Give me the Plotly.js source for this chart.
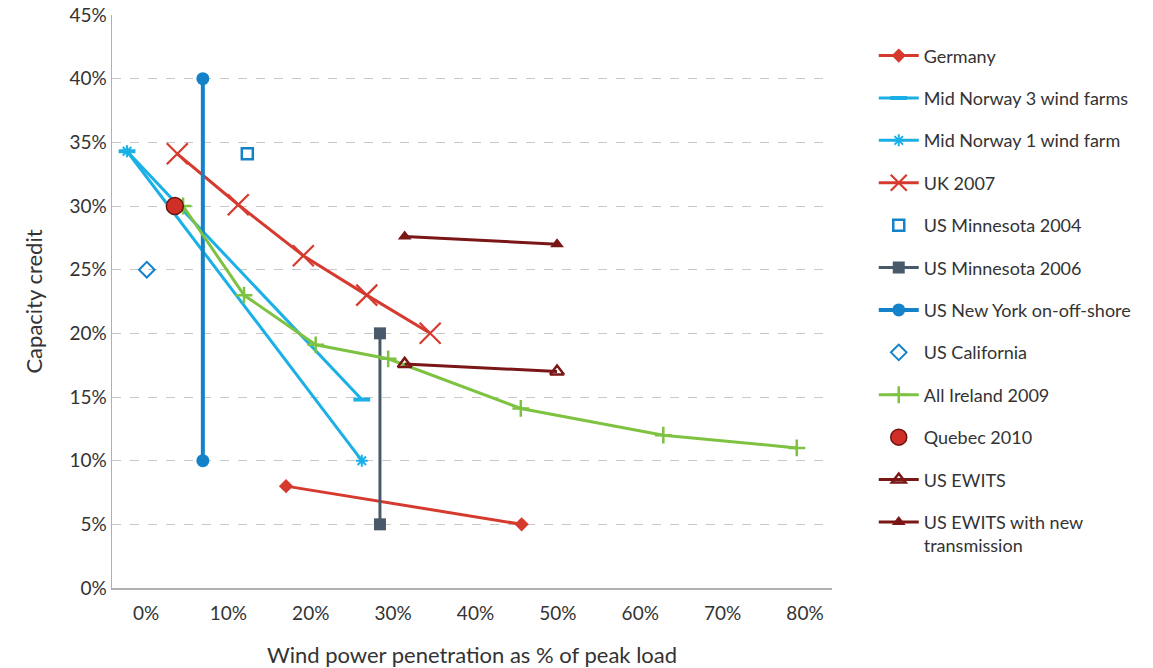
<!DOCTYPE html>
<html>
<head>
<meta charset="utf-8">
<script src="https://cdn.plot.ly/plotly-3.0.1.min.js"></script>
<style>html,body{margin:0;padding:0;background:#fff;}#chart{width:1153px;height:668px;}</style>
</head>
<body>
<div id="chart"></div>
<script>
// Values as fractions (penetration, capacity credit)
const germanyX = [0.170, 0.456];
const germanyY = [0.080, 0.050];
const norway3X = [-0.023, 0.262];
const norway3Y = [0.343, 0.148];
const norway1X = [-0.023, 0.262];
const norway1Y = [0.343, 0.100];
const uk2007X = [0.038, 0.112, 0.191, 0.268, 0.345];
const uk2007Y = [0.341, 0.301, 0.261, 0.230, 0.200];
const minn2004X = [0.123];
const minn2004Y = [0.341];
const minn2006X = [0.284, 0.284];
const minn2006Y = [0.200, 0.050];
const nyX = [0.069, 0.069];
const nyY = [0.400, 0.100];
const califX = [0.001];
const califY = [0.250];
const irelandX = [0.045, 0.119, 0.206, 0.294, 0.455, 0.628, 0.790];
const irelandY = [0.300, 0.230, 0.191, 0.180, 0.141, 0.120, 0.110];
const quebecX = [0.035];
const quebecY = [0.300];
const ewitsX = [0.314, 0.499];
const ewitsY = [0.176, 0.170];
const ewitsNewX = [0.314, 0.499];
const ewitsNewY = [0.276, 0.270];
const yTicks = [0, 0.05, 0.10, 0.15, 0.20, 0.25, 0.30, 0.35, 0.40, 0.45];
const xTicks = [0, 0.1, 0.2, 0.3, 0.4, 0.5, 0.6, 0.7, 0.8];

const RED = '#d63a2f', CYAN = '#1ab0e6', BLUE = '#1482c8', SLATE = '#485a6a', GREEN = '#7ec242', DRED = '#7a1616';

let g = 0;
function tr(name, x, y, mode, color, marker, lw) {
  g++;
  return {type: 'scatter', name: name, x: x, y: y, mode: mode, legendgroup: 'g' + g,
    line: {color: color, width: lw || 3}, marker: marker, cliponaxis: false};
}

const traces = [
  tr('Germany', germanyX, germanyY, 'lines+markers', RED, {symbol: 'diamond', size: 11, color: RED}),
  tr('Mid Norway 3 wind farms', norway3X, norway3Y, 'lines+markers', CYAN, {symbol: 'line-ew', size: 12, color: CYAN, line: {color: CYAN, width: 4}}),
  tr('Mid Norway 1 wind farm', norway1X, norway1Y, 'lines+markers', CYAN, {symbol: 'asterisk', size: 10, color: CYAN, line: {color: CYAN, width: 2}}),
  tr('UK 2007', uk2007X, uk2007Y, 'lines+markers', RED, {symbol: 'x-thin', size: 21, color: RED, line: {color: RED, width: 2.2}}),
  tr('US Minnesota 2004', minn2004X, minn2004Y, 'markers', BLUE, {symbol: 'square-open', size: 11, color: BLUE, line: {color: BLUE, width: 2.5}}),
  tr('US Minnesota 2006', minn2006X, minn2006Y, 'lines+markers', SLATE, {symbol: 'square', size: 12, color: SLATE}),
  tr('US New York on-off-shore', nyX, nyY, 'lines+markers', BLUE, {symbol: 'circle', size: 13, color: BLUE}, 4),
  tr('US California', califX, califY, 'markers', BLUE, {symbol: 'diamond-open', size: 12, color: BLUE, line: {color: BLUE, width: 2}}),
  tr('All Ireland 2009', irelandX, irelandY, 'lines+markers', GREEN, {symbol: 'cross-thin', size: 12, color: GREEN, line: {color: GREEN, width: 2.5}}),
  tr('Quebec 2010', quebecX, quebecY, 'markers', RED, {symbol: 'circle', size: 17, color: '#d02f28', line: {color: '#6b1410', width: 1.5}}),
  tr('US EWITS', ewitsX, ewitsY, 'lines+markers', DRED, {symbol: 'triangle-up-open', size: 12, color: DRED, line: {color: DRED, width: 2.5}}),
  tr('US EWITS with new<br>transmission', ewitsNewX, ewitsNewY, 'lines+markers', DRED, {symbol: 'triangle-up', size: 12, color: DRED})
];

const pxPerUnit = (805 - 146) / 0.8;
const xMin = (112 - 146) / pxPerUnit;
const xMax = (832 - 146) / pxPerUnit;

const layout = {
  width: 1153, height: 668,
  margin: {l: 112, r: 321, t: 15, b: 80},
  paper_bgcolor: '#fff', plot_bgcolor: '#fff',
  font: {family: 'Lato, "Open Sans", sans-serif', color: '#333', size: 18},
  showlegend: true,
  legend: {x: 1.058, y: 0.961, xanchor: 'left', yanchor: 'top', tracegroupgap: 16, valign: 'top',
    font: {size: 18, color: '#333'}, bgcolor: 'rgba(0,0,0,0)', itemwidth: 40},
  xaxis: {range: [xMin, xMax], tickvals: xTicks, tickformat: '.0%', showgrid: false, zeroline: false,
    showline: true, linecolor: '#b0b0b0', linewidth: 1.5, ticks: '', ticklabelstandoff: 8, tickfont: {size: 19, color: '#333'},
    title: {text: 'Wind power penetration as % of peak load', font: {size: 22, color: '#333'}, standoff: 26}, fixedrange: true},
  yaxis: {range: [0, 0.45], tickvals: yTicks, tickformat: '.0%', showgrid: true, gridcolor: '#c8c8c8', griddash: 'dash', gridwidth: 1,
    zeroline: false, showline: true, linecolor: '#b0b0b0', linewidth: 1.5, ticks: '', ticklen: 0,
    tickfont: {size: 19, color: '#333'},
    title: {text: 'Capacity credit', font: {size: 22, color: '#333'}, standoff: 20}, fixedrange: true}
};

Plotly.newPlot('chart', traces, layout, {displayModeBar: false, staticPlot: true});
</script>
</body>
</html>
